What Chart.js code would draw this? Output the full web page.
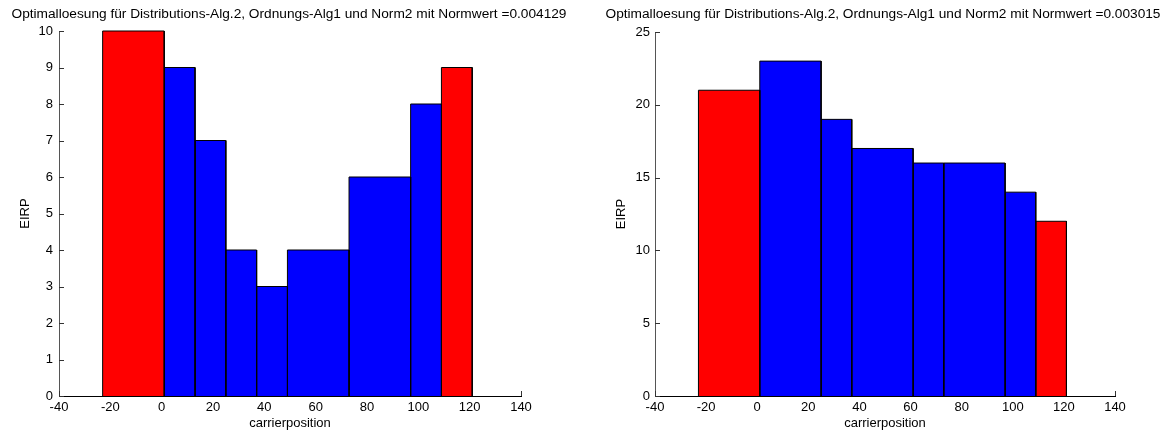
<!DOCTYPE html>
<html>
<head>
<meta charset="utf-8">
<script src="https://cdn.jsdelivr.net/npm/chart.js@4/dist/chart.umd.min.js"></script>
<style>
  html, body { margin: 0; padding: 0; background: #fff; overflow: hidden; }
  .panel { position: absolute; top: 0; width: 584px; height: 432px; }
  .title {
    position: absolute; top: 6px; transform: translateX(-50%);
    white-space: nowrap; font: 13.7px/16px "Liberation Sans", Arial, Helvetica, sans-serif; color: #000;
  }
</style>
</head>
<body>
<div class="panel" style="left:0"><canvas id="left" width="584" height="432"></canvas></div>
<div class="panel" style="left:584px"><canvas id="right" width="584" height="432"></canvas></div>
<div class="title" id="leftTitle" style="left:289px"></div>
<div class="title" id="rightTitle" style="left:883px"></div>
<script>
// Daten
const leftTitle = 'Optimalloesung für Distributions-Alg.2, Ordnungs-Alg1 und Norm2 mit Normwert =0.004129';
const leftEdges = [-23, 1, 13, 25, 37, 49, 73, 97, 109, 121];
const leftEIRP = [10, 9, 7, 4, 3, 4, 6, 8, 9];

const rightTitle = 'Optimalloesung für Distributions-Alg.2, Ordnungs-Alg1 und Norm2 mit Normwert =0.003015';
const rightEdges = [-23, 1, 25, 37, 61, 73, 97, 109, 121];
const rightEIRP = [21, 23, 19, 17, 16, 16, 14, 12];

const xLabel = 'carrierposition';
const yLabel = 'EIRP';

const FONT = '"Liberation Sans", Arial, Helvetica, sans-serif';

document.getElementById('leftTitle').textContent = leftTitle;
document.getElementById('rightTitle').textContent = rightTitle;

// MATLAB-Ticks zeigen nach innen
const inwardTicks = {
    id: 'inwardTicks',
    beforeDatasetsDraw(chart) {
        const { ctx, chartArea: a, scales: { x, y } } = chart;
        ctx.save();
        ctx.strokeStyle = '#333';
        ctx.lineWidth = 1;
        ctx.beginPath();
        y.ticks.forEach(t => {
            const py = Math.round(y.getPixelForValue(t.value)) + 0.5;
            ctx.moveTo(a.left, py);
            ctx.lineTo(a.left + 5, py);
        });
        x.ticks.forEach(t => {
            const px = Math.round(x.getPixelForValue(t.value)) + 0.5;
            ctx.moveTo(px, a.bottom);
            ctx.lineTo(px, a.bottom - 5);
        });
        ctx.stroke();
        ctx.restore();
    }
};

// jeder Balken als geschlossener Linienzug
function barDatasets(edges, values) {
    return values.map((v, i) => {
        const outer = i === 0 || i === values.length - 1;
        return {
            data: [
                { x: edges[i], y: 0 },
                { x: edges[i], y: v },
                { x: edges[i + 1], y: v },
                { x: edges[i + 1], y: 0 }
            ],
            fill: 'origin',
            backgroundColor: outer ? '#ff0000' : '#0000ff',
            borderColor: '#000',
            borderWidth: 1,
            pointRadius: 0,
            tension: 0,
            clip: false
        };
    });
}

function makeChart(id, edges, values, yMax, yStep, opt) {
    const ctx = document.getElementById(id).getContext('2d');
    return new Chart(ctx, {
        type: 'line',
        data: { datasets: barDatasets(edges, values) },
        plugins: [inwardTicks],
        options: {
            responsive: false,
            animation: false,
            events: [],
            layout: { padding: { left: 0, right: opt.padRight, top: opt.padTop, bottom: 0 } },
            plugins: {
                legend: { display: false },
                tooltip: { enabled: false },
                title: { display: false }
            },
            scales: {
                x: {
                    type: 'linear',
                    min: -40,
                    max: 140,
                    afterFit: s => { s.height = 36; },
                    ticks: { stepSize: 20, color: '#000', padding: 4, font: { family: FONT, size: 13 }, maxRotation: 0 },
                    grid: { drawOnChartArea: false, drawTicks: false },
                    border: { color: '#000', width: 1 },
                    title: { display: true, text: xLabel, color: '#000', font: { family: FONT, size: 13 }, padding: { top: 0, bottom: 1 } }
                },
                y: {
                    min: 0,
                    max: yMax,
                    afterFit: s => { s.width = opt.yWidth; },
                    ticks: { stepSize: yStep, color: '#000', padding: opt.tickPad, font: { family: FONT, size: 13 } },
                    grid: { drawOnChartArea: false, drawTicks: false },
                    border: { color: '#555', width: 1 },
                    title: { display: true, text: yLabel, color: '#000', font: { family: FONT, size: 13 }, padding: { top: opt.yTitlePad, bottom: 0 } }
                }
            }
        }
    });
}

makeChart('left', leftEdges, leftEIRP, 10, 1,
    { padRight: 63, padTop: 31, yWidth: 59, tickPad: 6, yTitlePad: 18 });
makeChart('right', rightEdges, rightEIRP, 25, 5,
    { padRight: 53, padTop: 32, yWidth: 71, tickPad: 5, yTitlePad: 30 });
</script>
</body>
</html>
